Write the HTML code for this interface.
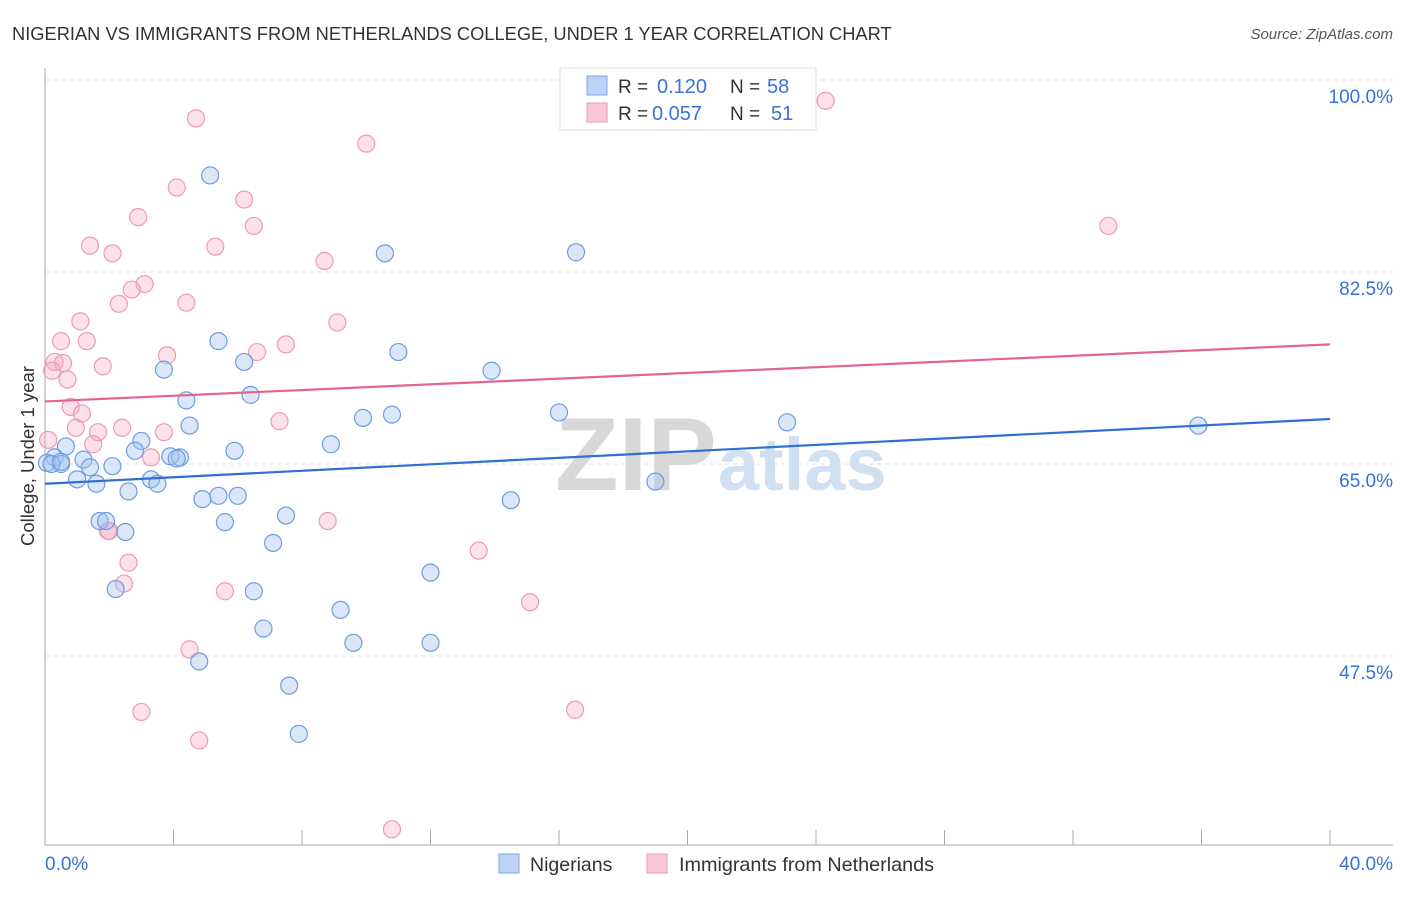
<!DOCTYPE html>
<html><head><meta charset="utf-8"><style>
body{margin:0;background:#fff;font-family:"Liberation Sans",sans-serif;}
svg text{font-family:"Liberation Sans",sans-serif;}
</style></head><body>
<svg id="chart" width="1406" height="892" xmlns="http://www.w3.org/2000/svg">
<text x="12" y="40" font-size="18.3" fill="#333">NIGERIAN VS IMMIGRANTS FROM NETHERLANDS COLLEGE, UNDER 1 YEAR CORRELATION CHART</text>
<text x="1393" y="39" font-size="15" fill="#555" font-style="italic" text-anchor="end">Source: ZipAtlas.com</text>
<g id="grid"></g>
<text x="555" y="490" font-size="104" font-family="Liberation Serif" fill="#d8d8d8" font-weight="bold">ZIP</text>
<text x="718" y="490" font-size="74" fill="#cfe0f3" font-weight="bold">atlas</text>
<line x1="45" y1="68" x2="45" y2="845" stroke="#aaa"/>
<line x1="45" y1="845" x2="1393" y2="845" stroke="#aaa"/>
<g id="marks"></g>
<text x="34" y="456" font-size="18.5" fill="#333" text-anchor="middle" transform="rotate(-90 34 456)">College, Under 1 year</text>
<text x="45" y="870" font-size="19" fill="#3a72d4">0.0%</text>
<text x="1393" y="870" font-size="19" fill="#3a72d4" text-anchor="end">40.0%</text>
<g>
<rect x="560" y="68" width="256" height="62" fill="#fff" stroke="#ddd"/>
<rect x="587" y="76" width="20" height="19" fill="#bcd3f5" stroke="#7fa6e6"/>
<rect x="587" y="103" width="20" height="19" fill="#f9c8d6" stroke="#ee9ab4"/>
<text x="618" y="93" font-size="19" fill="#333">R = </text><text x="657" y="93" font-size="20" fill="#3a72d4">0.120</text>
<text x="730" y="93" font-size="19" fill="#333">N = </text><text x="767" y="93" font-size="20" fill="#3a72d4">58</text>
<text x="618" y="120" font-size="19" fill="#333">R = </text><text x="652" y="120" font-size="20" fill="#3a72d4">0.057</text>
<text x="730" y="120" font-size="19" fill="#333">N = </text><text x="771" y="120" font-size="20" fill="#3a72d4">51</text>
</g>
<g>
<rect x="499" y="854" width="20" height="19" fill="#bcd3f5" stroke="#7fa6e6"/>
<text x="530" y="871" font-size="19.5" fill="#333">Nigerians</text>
<rect x="647" y="854" width="20" height="19" fill="#f9c8d6" stroke="#ee9ab4"/>
<text x="679" y="871" font-size="19.8" fill="#333">Immigrants from Netherlands</text>
</g>
</svg>
<script>
const yTicks=[100,82.5,65,47.5];
const xTicks=[0,4,8,12,16,20,24,28,32,36,40];
const blueX=[5.14,10.58,16.53,5.4,6.2,11.0,3.7,13.9,6.4,4.4,4.5,9.9,10.8,16.0,23.1,35.9,0.65,3.0,2.8,5.9,8.9,0.3,0.06,0.5,1.2,1.4,2.1,3.9,4.2,4.1,1.0,1.6,3.3,3.5,2.6,4.9,5.4,6.0,14.5,19.0,7.5,1.7,1.9,2.5,5.6,7.1,12.0,2.2,6.5,9.2,6.8,9.6,12.0,4.8,7.6,7.9,0.2,0.5];
const blueY=[91.3,84.2,84.3,76.2,74.3,75.2,73.6,73.5,71.3,70.8,68.5,69.2,69.5,69.7,68.8,68.5,66.6,67.1,66.2,66.2,66.8,65.6,65.1,65.0,65.4,64.7,64.8,65.7,65.6,65.5,63.6,63.2,63.6,63.2,62.5,61.8,62.1,62.1,61.7,63.4,60.3,59.8,59.8,58.8,59.7,57.8,55.1,53.6,53.4,51.7,50.0,48.7,48.7,47.0,44.8,40.4,65.0,65.2];
const pinkX=[24.3,4.7,10.0,4.1,6.2,2.9,6.5,33.1,1.4,5.3,2.1,8.7,3.1,2.7,4.4,2.3,1.1,9.1,0.5,1.3,7.5,6.6,3.8,0.3,0.56,1.8,0.22,0.7,0.8,1.15,7.3,0.96,1.65,2.4,3.7,1.5,0.1,3.3,8.8,13.5,1.96,2.0,2.6,2.46,5.6,15.1,4.5,3.0,16.5,4.8,10.8];
const pinkY=[98.1,96.5,94.2,90.2,89.1,87.5,86.7,86.7,84.9,84.8,84.2,83.5,81.4,80.9,79.7,79.6,78.0,77.9,76.2,76.2,75.9,75.2,74.9,74.3,74.2,73.9,73.5,72.7,70.2,69.6,68.9,68.3,67.9,68.3,67.9,66.8,67.2,65.6,59.8,57.1,58.9,58.9,56.0,54.1,53.4,52.4,48.1,42.4,42.6,39.8,31.7];
const blueLine=[63.2,69.1];
const pinkLine=[70.7,75.9];
const X0=45,X1=1330,Y0=80,PX=10.971;
const xs=v=>X0+v/40*(X1-X0);
const ys=v=>Y0+(100-v)*PX;
const NS='http://www.w3.org/2000/svg';
const grid=document.getElementById('grid'),marks=document.getElementById('marks'),svg=document.getElementById('chart');
function mk(tag,attrs,parent){const e=document.createElementNS(NS,tag);for(const k in attrs)e.setAttribute(k,attrs[k]);parent.appendChild(e);return e;}
yTicks.forEach(t=>{
 const l=mk('line',{x1:45,x2:1393,y1:ys(t),y2:ys(t),stroke:'#ddd','stroke-dasharray':'4,4'},grid);
 
 
 const tx=mk('text',{x:1393,y:ys(t)+23,'font-size':19,fill:'#3a72d4','text-anchor':'end'},svg);
 tx.textContent=t.toFixed(1)+'%';
 
 
});
xTicks.forEach(t=>{
 const l=mk('line',{x1:xs(t),x2:xs(t),y1:830,y2:845,stroke:'#aaa'},grid);
 
 
});
pinkX.forEach((x,i)=>{
 const c=mk('circle',{cx:xs(x),cy:ys(pinkY[i]),r:8.5,fill:'rgba(246,170,195,0.35)',stroke:'#ee9ab4','stroke-width':1.2},marks);
 
 
});
blueX.forEach((x,i)=>{
 const c=mk('circle',{cx:xs(x),cy:ys(blueY[i]),r:8.5,fill:'rgba(160,195,240,0.4)',stroke:'#6f9ce0','stroke-width':1.2},marks);
 
 
});
const bl=mk('line',{x1:xs(0),x2:xs(40),y1:ys(blueLine[0]),y2:ys(blueLine[1]),stroke:'#2f6fd6','stroke-width':2.2},marks);


const pl=mk('line',{x1:xs(0),x2:xs(40),y1:ys(pinkLine[0]),y2:ys(pinkLine[1]),stroke:'#e4648d','stroke-width':2.2},marks);


</script>
</body></html>
